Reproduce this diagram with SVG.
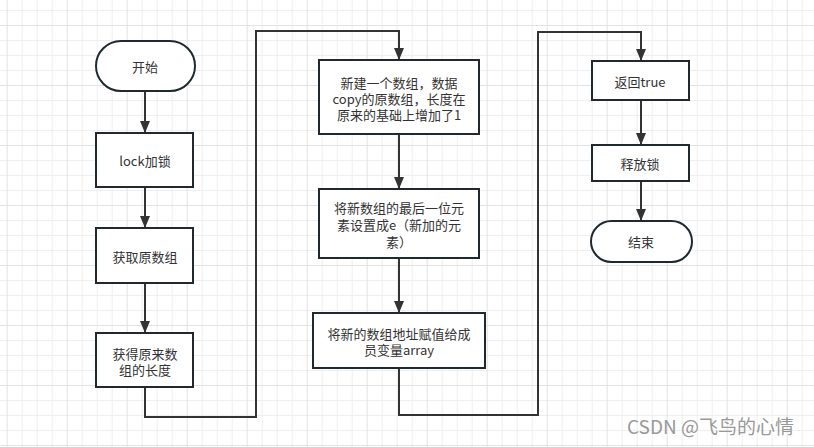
<svg xmlns="http://www.w3.org/2000/svg" width="814" height="447" viewBox="0 0 814 447">
<defs>
<pattern id="grid" patternUnits="userSpaceOnUse" x="6.67" y="25" width="60" height="60">
<rect width="60" height="60" fill="#ffffff"/>
<path d="M15.5 0V60M30.5 0V60M45.5 0V60M0 15.5H60M0 30.5H60M0 45.5H60" stroke="#efefef" stroke-width="1" fill="none"/>
<path d="M0.5 0V60M0 0.5H60" stroke="#e3e3e3" stroke-width="1" fill="none"/>
</pattern>
<marker id="arr" markerUnits="userSpaceOnUse" viewBox="0 0 12 10" refX="12" refY="5" markerWidth="12" markerHeight="10" orient="auto">
<path d="M0,0 L12,5 L0,10 z" fill="#333333"/>
</marker>
</defs>
<style>
.box{fill:#ffffff;stroke:#1f2a30;stroke-width:2}
.t{font-family:"Microsoft YaHei","Noto Sans CJK SC","Noto Sans",sans-serif;font-size:13px;fill:#333333;text-anchor:middle;dominant-baseline:central}
.c{fill:none;stroke:#333333;stroke-width:2}
.wm{font-family:"Noto Sans CJK SC","Noto Sans",sans-serif;font-size:19px;fill:#999999}
</style>
<rect width="814" height="447" fill="url(#grid)"/>
<g id="connectors">
<path class="c" d="M145 91V133" marker-end="url(#arr)"/>
<path class="c" d="M145 187V228" marker-end="url(#arr)"/>
<path class="c" d="M145 283V333" marker-end="url(#arr)"/>
<path class="c" d="M145 387V417H256V31H399V60" marker-end="url(#arr)"/>
<path class="c" d="M399 134V189" marker-end="url(#arr)"/>
<path class="c" d="M399 258V313" marker-end="url(#arr)"/>
<path class="c" d="M399 368V415H538V32H641V61" marker-end="url(#arr)"/>
<path class="c" d="M641 100V145" marker-end="url(#arr)"/>
<path class="c" d="M641 181V221" marker-end="url(#arr)"/>
</g>
<g id="start">
<rect class="box" x="96" y="41" width="99" height="50" rx="25" ry="25"/>
<text class="t" x="145" y="66">开始</text>
</g>
<g id="lock">
<rect class="box" x="96" y="133" width="97" height="54"/>
<text class="t" x="145" y="160">lock加锁</text>
</g>
<g id="getArray">
<rect class="box" x="96" y="228" width="97" height="55"/>
<text class="t" x="145" y="256">获取原数组</text>
</g>
<g id="getLength">
<rect class="box" x="96" y="333" width="97" height="54"/>
<text class="t"><tspan x="145" y="353">获得原来数</tspan><tspan x="145" y="369">组的长度</tspan></text>
</g>
<g id="newArray">
<rect class="box" x="319" y="60" width="160" height="74"/>
<text class="t"><tspan x="399" y="82">新建一个数组，数据</tspan><tspan x="399" y="98">copy的原数组，长度在</tspan><tspan x="399" y="114">原来的基础上增加了1</tspan></text>
</g>
<g id="setLast">
<rect class="box" x="319" y="189" width="160" height="69"/>
<text class="t"><tspan x="399" y="207">将新数组的最后一位元</tspan><tspan x="399" y="224">素设置成e（新加的元</tspan><tspan x="399" y="241">素）</tspan></text>
</g>
<g id="assign">
<rect class="box" x="313" y="313" width="172" height="55"/>
<text class="t"><tspan x="399" y="333">将新的数组地址赋值给成</tspan><tspan x="399" y="349">员变量array</tspan></text>
</g>
<g id="returnTrue">
<rect class="box" x="592" y="61" width="97" height="39"/>
<text class="t" x="640" y="81">返回true</text>
</g>
<g id="unlock">
<rect class="box" x="592" y="145" width="97" height="36"/>
<text class="t" x="640" y="163">释放锁</text>
</g>
<g id="end">
<rect class="box" x="591" y="221" width="101" height="41" rx="20.5" ry="20.5"/>
<text class="t" x="641" y="241">结束</text>
</g>
<text class="wm" x="627" y="434">CSDN @飞鸟的心情</text>
</svg>
